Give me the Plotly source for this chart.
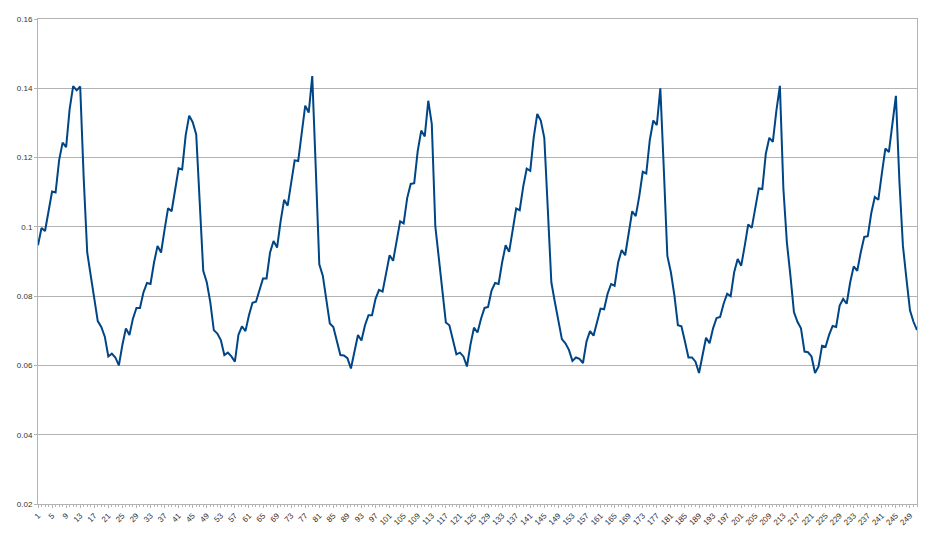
import plotly.graph_objs as go

# category index along the bottom axis (1..251), labelled every 4th
days = list(range(1, 252))

# readings, one per category
values = [
    0.0947, 0.0997, 0.0988, 0.1050, 0.1102, 0.1099, 0.1192, 0.1243, 0.1230, 0.1340,
    0.1406, 0.1394, 0.1405, 0.1140, 0.0926, 0.0859, 0.0792, 0.0728, 0.0711, 0.0683,
    0.0626, 0.0634, 0.0623, 0.0600, 0.0659, 0.0707, 0.0688, 0.0735, 0.0766, 0.0766,
    0.0811, 0.0838,
    0.0835, 0.0897, 0.0945, 0.0926, 0.0992, 0.1054, 0.1045, 0.1111, 0.1169, 0.1166,
    0.1264, 0.1321, 0.1302, 0.1267, 0.1069, 0.0873, 0.0840, 0.0783, 0.0702, 0.0692,
    0.0673, 0.0630, 0.0637, 0.0626, 0.0611, 0.0688, 0.0713, 0.0699, 0.0745, 0.0781,
    0.0784,
    0.0821, 0.0851, 0.0851, 0.0926, 0.0959, 0.0940, 0.1016, 0.1078, 0.1061, 0.1130,
    0.1192, 0.1190, 0.1278, 0.1350, 0.1330, 0.1435, 0.1170, 0.0892, 0.0859, 0.0792,
    0.0721, 0.0711, 0.0673, 0.0630, 0.0629, 0.0621, 0.0591, 0.0640, 0.0688, 0.0672,
    0.0716,
    0.0745, 0.0745, 0.0792, 0.0818, 0.0813, 0.0869, 0.0918, 0.0902, 0.0964, 0.1016,
    0.1010, 0.1083, 0.1124, 0.1126, 0.1219, 0.1278, 0.1261, 0.1364, 0.1297, 0.1002,
    0.0910, 0.0815, 0.0724, 0.0716, 0.0678, 0.0632, 0.0637, 0.0626, 0.0597, 0.0660,
    0.0709, 0.0695, 0.0735, 0.0766, 0.0769, 0.0816, 0.0838, 0.0835, 0.0897, 0.0947,
    0.0928, 0.0992, 0.1053, 0.1048, 0.1116, 0.1168, 0.1162, 0.1259, 0.1326, 0.1307,
    0.1257, 0.1050, 0.0840, 0.0783, 0.0726, 0.0676, 0.0664, 0.0645, 0.0613, 0.0623,
    0.0619,
    0.0607, 0.0669, 0.0699, 0.0686, 0.0726, 0.0764, 0.0762, 0.0807, 0.0835, 0.0830,
    0.0897, 0.0933, 0.0918, 0.0988, 0.1045, 0.1031, 0.1088, 0.1159, 0.1154, 0.1250,
    0.1307, 0.1294, 0.1400, 0.1164, 0.0916, 0.0869, 0.0802, 0.0716, 0.0713, 0.0669,
    0.0623, 0.0623,
    0.0611, 0.0578, 0.0630, 0.0680, 0.0664, 0.0707, 0.0737, 0.0740, 0.0778, 0.0807,
    0.0800, 0.0869, 0.0907, 0.0888, 0.0945, 0.1007, 0.0997, 0.1059, 0.1111, 0.1109,
    0.1211, 0.1257, 0.1245, 0.1335, 0.1407, 0.1110, 0.0954, 0.0859, 0.0754, 0.0726,
    0.0707,
    0.0640, 0.0638, 0.0626, 0.0578, 0.0597, 0.0657, 0.0654, 0.0688, 0.0714, 0.0711,
    0.0773, 0.0792, 0.0778, 0.0840, 0.0886, 0.0873, 0.0926, 0.0971, 0.0973, 0.1040,
    0.1086, 0.1078, 0.1154, 0.1226, 0.1216, 0.1297, 0.1378, 0.1130, 0.0945, 0.0850,
    0.0759, 0.0726, 0.0702,
]

tick_days = days[::4]
tick_labels = [str(d) for d in tick_days]

grid_color = '#b3b3b3'
label_font = dict(family='Liberation Sans, Arial, sans-serif', size=8, color='#333333')

fig = go.Figure()
fig.add_trace(go.Scatter(x=days, y=values, mode='lines',
                         line=dict(color='#004586', width=2),
                         showlegend=False, hoverinfo='x+y'))

# the page body has an 8px margin, so the figure is sized to fit inside it
fig.update_layout(
    width=928,
    height=526,
    margin=dict(l=30, r=19, t=7, b=30),
    paper_bgcolor='white',
    plot_bgcolor='white',
    xaxis=dict(
        range=[1, 251],
        tickmode='array',
        tickvals=tick_days,
        ticktext=tick_labels,
        tickangle=-45,
        tickfont=label_font,
        ticks='outside',
        ticklen=3,
        tickcolor=grid_color,
        minor=dict(dtick=1, ticks='outside', ticklen=2, tickcolor=grid_color),
        showgrid=False,
        showline=True,
        mirror=True,
        linecolor=grid_color,
        linewidth=1,
        zeroline=False,
    ),
    yaxis=dict(
        range=[0.02, 0.16],
        dtick=0.02,
        tick0=0.02,
        tickfont=label_font,
        ticks='outside',
        ticklen=3,
        tickcolor=grid_color,
        showgrid=True,
        gridcolor=grid_color,
        gridwidth=1,
        showline=True,
        mirror=True,
        linecolor=grid_color,
        linewidth=1,
        zeroline=False,
    ),
)

fig.write_html('out.html')
